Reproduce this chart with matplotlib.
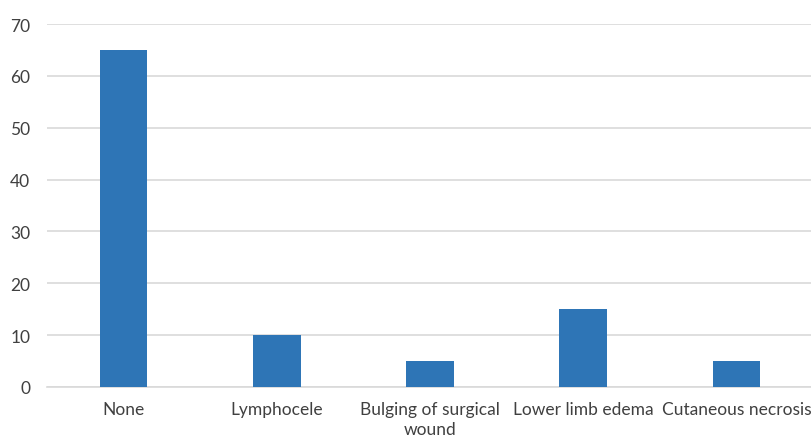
import matplotlib.pyplot as plt

# categories and values
categories = ["None", "Lymphocele", "Bulging of surgical\nwound", "Lower limb edema", "Cutaneous necrosis"]
values = [65, 10, 5, 15, 5]
yticks = [0, 10, 20, 30, 40, 50, 60, 70]

plt.rcParams["font.family"] = ["Lato", "DejaVu Sans"]

fig = plt.figure(figsize=(8.12, 4.39), dpi=100)
ax = fig.add_axes([47 / 812, 51 / 439, 766 / 812, 363 / 439])

x = range(len(categories))
ax.bar(x, values, width=0.31, color="#2E75B6", zorder=3)

ax.set_xlim(-0.5, 4.5)
ax.set_ylim(0, 70)
ax.set_yticks(yticks)
ax.set_xticks(list(x))
ax.set_xticklabels(categories, fontsize=12.5, color="#404040", linespacing=1.35)
ax.tick_params(axis="y", labelsize=12.5, labelcolor="#404040", length=0, pad=12)
ax.tick_params(axis="x", length=0, pad=10)

# gridlines like Excel
ax.yaxis.grid(True, color="#D9D9D9", linewidth=1.2, zorder=0)
for s in ["top", "right", "left"]:
    ax.spines[s].set_visible(False)
ax.spines["bottom"].set_color("#D9D9D9")
ax.spines["bottom"].set_linewidth(1.2)

fig.savefig("out.png", dpi=100)
